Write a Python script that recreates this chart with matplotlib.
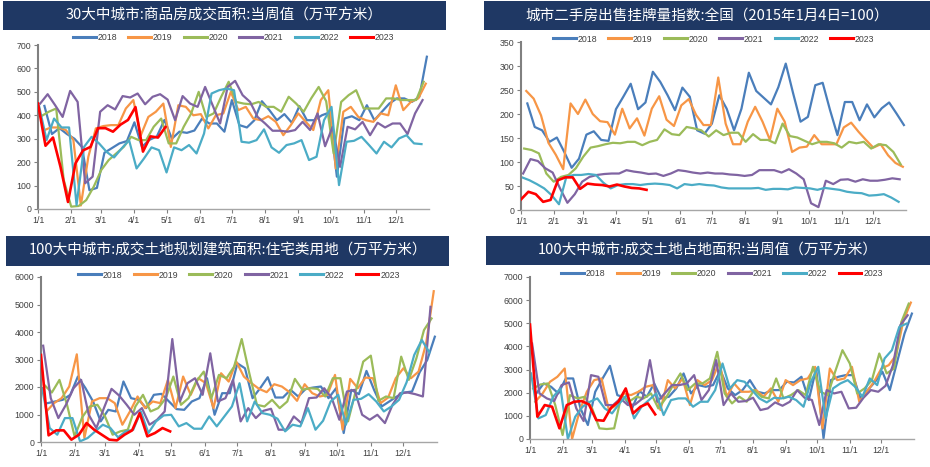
import numpy as np
import matplotlib
matplotlib.use("Agg")
import matplotlib.pyplot as plt
from matplotlib.patches import Rectangle

plt.rcParams['font.family'] = ['Liberation Sans', 'Noto Sans CJK SC', 'DejaVu Sans']

years = ["2018", "2019", "2020", "2021", "2022", "2023"]
colors = ["#4A7EBB", "#F79646", "#9BBB59", "#8064A2", "#4BACC6", "#FF0000"]
start_days = [6, 5, 3, 2, 1, 0]

month_days = [0, 31, 59, 90, 120, 151, 181, 212, 243, 273, 304, 334]
month_labels = ["1/1", "2/1", "3/1", "4/1", "5/1", "6/1", "7/1", "8/1", "9/1", "10/1", "11/1", "12/1"]

titles = [
    "30大中城市:商品房成交面积:当周值（万平方米）",
    "城市二手房出售挂牌量指数:全国（2015年1月4日=100）",
    "100大中城市:成交土地规划建筑面积:住宅类用地（万平方米）",
    "100大中城市:成交土地占地面积:当周值（万平方米）",
]

# Panel 1: 30 cities weekly sales area
p1_2018 = [440, 320, 345, 320, 300, 265, 80, 90, 240, 260, 280, 290, 370, 265, 295, 310, 380, 300, 330, 325, 335, 385, 365, 365, 330, 465, 358, 348, 379, 460, 422, 379, 405, 368, 439, 379, 379, 400, 412, 138, 386, 396, 379, 443, 379, 415, 450, 472, 472, 457, 479, 650]
p1_2019 = [335, 348, 348, 337, 295, 15, 223, 344, 354, 358, 358, 429, 465, 315, 393, 415, 450, 265, 443, 436, 400, 405, 344, 400, 408, 500, 422, 436, 386, 379, 396, 372, 315, 358, 408, 372, 337, 465, 507, 173, 415, 436, 393, 379, 372, 408, 400, 528, 422, 457, 472, 535]
p1_2020 = [396, 415, 429, 124, 10, 13, 38, 95, 166, 209, 237, 265, 308, 294, 294, 351, 386, 280, 280, 351, 408, 500, 393, 408, 479, 543, 457, 450, 447, 457, 436, 436, 415, 479, 450, 415, 472, 521, 460, 237, 457, 486, 507, 429, 429, 429, 472, 472, 465, 465, 465, 543]
p1_2021 = [450, 490, 443, 393, 504, 457, 110, 138, 415, 443, 425, 482, 476, 493, 447, 479, 490, 467, 379, 482, 450, 436, 521, 443, 365, 521, 547, 486, 457, 393, 365, 334, 334, 330, 337, 372, 337, 408, 268, 351, 180, 351, 340, 372, 315, 368, 348, 365, 365, 320, 408, 465]
p1_2022 = [440, 294, 386, 348, 348, 17, 265, 308, 280, 244, 220, 258, 294, 173, 216, 263, 251, 156, 263, 251, 273, 237, 322, 493, 507, 514, 507, 287, 283, 294, 340, 263, 240, 273, 280, 294, 209, 223, 379, 436, 102, 287, 291, 308, 273, 237, 287, 263, 301, 315, 280, 277]
p1_2023 = [450, 270, 305, 180, 30, 195, 250, 265, 345, 345, 330, 360, 380, 435, 245, 310, 305, 350]

# Panel 2: second-hand listing index
p2_2018 = [222, 173, 166, 142, 151, 121, 88, 107, 157, 164, 146, 144, 210, 236, 263, 210, 224, 288, 267, 239, 208, 255, 236, 166, 159, 180, 239, 211, 166, 211, 286, 248, 234, 220, 256, 305, 243, 184, 194, 260, 265, 208, 156, 225, 225, 187, 220, 193, 212, 224, 201, 177]
p2_2019 = [248, 232, 197, 140, 115, 85, 222, 200, 230, 200, 185, 183, 157, 211, 170, 191, 155, 211, 237, 188, 175, 218, 231, 198, 177, 177, 276, 180, 137, 137, 184, 215, 184, 146, 211, 184, 121, 130, 132, 156, 137, 137, 137, 172, 182, 163, 146, 130, 137, 114, 98, 90]
p2_2020 = [128, 125, 118, 76, 59, 69, 73, 87, 111, 130, 133, 137, 140, 139, 142, 142, 135, 142, 146, 168, 158, 156, 173, 170, 166, 153, 166, 156, 161, 161, 142, 158, 146, 146, 139, 180, 154, 151, 144, 137, 142, 142, 139, 130, 142, 139, 142, 128, 137, 135, 121, 95]
p2_2021 = [76, 106, 102, 87, 78, 45, 15, 33, 59, 69, 73, 75, 76, 76, 83, 80, 78, 75, 76, 71, 76, 83, 81, 78, 76, 78, 76, 76, 74, 73, 71, 73, 83, 83, 83, 78, 85, 76, 64, 14, 6, 61, 54, 63, 64, 59, 64, 61, 61, 63, 66, 64]
p2_2022 = [68, 62, 54, 45, 31, 12, 69, 73, 73, 75, 73, 57, 45, 52, 54, 54, 52, 54, 55, 54, 52, 45, 54, 52, 54, 52, 51, 47, 45, 45, 45, 45, 46, 42, 44, 44, 43, 47, 46, 45, 42, 46, 44, 42, 38, 36, 35, 30, 31, 33, 26, 17]
p2_2023 = [22, 38, 33, 17, 21, 62, 68, 68, 44, 55, 53, 52, 49, 53, 49, 46, 45, 42]

# Panel 3: 100 cities land planned floor area (residential)
p3_2018 = [1413, 1473, 1534, 1715, 2380, 1957, 1473, 750, 1170, 1110, 2200, 1594, 1534, 1232, 1715, 1750, 1473, 1196, 1170, 1473, 1594, 2320, 990, 1775, 1775, 2862, 2681, 1594, 1957, 2355, 1618, 1618, 1896, 1655, 1932, 1981, 2017, 1594, 1957, 326, 1896, 1739, 2585, 1896, 1292, 1473, 1655, 1800, 1836, 2536, 2983, 3829]
p3_2019 = [1111, 1413, 1594, 2017, 3188, 145, 1473, 1594, 1594, 1413, 628, 1111, 1655, 1232, 1473, 1413, 2258, 1232, 2380, 1715, 2320, 2138, 1232, 2500, 2198, 2923, 2380, 2138, 1932, 1812, 2101, 2017, 1812, 1498, 2101, 1775, 1655, 1715, 2440, 447, 2295, 1957, 2343, 2319, 1413, 1618, 2319, 2681, 2319, 2560, 3587, 5483]
p3_2020 = [2077, 1800, 2258, 1353, 205, 900, 1292, 1353, 930, 266, 386, 447, 1292, 1715, 1111, 1232, 1594, 2380, 1353, 1594, 2198, 2560, 1594, 2440, 2319, 2741, 3744, 2500, 1353, 1292, 1534, 1232, 1473, 2295, 1896, 1957, 1932, 1655, 2319, 2319, 749, 1836, 2923, 3140, 1498, 1655, 1594, 3104, 2258, 3043, 4070, 4493]
p3_2021 = [3502, 1594, 870, 1353, 1957, 2258, 990, 507, 1232, 1932, 1690, 1353, 990, 1232, 628, 809, 1111, 3744, 1473, 2138, 2319, 1715, 3225, 1473, 1594, 2258, 749, 1232, 870, 1135, 1208, 447, 447, 930, 688, 1594, 1618, 1957, 1594, 809, 1836, 1896, 990, 809, 990, 688, 1353, 1775, 1800, 1739, 1655, 4915]
p3_2022 = [1957, 507, 266, 870, 870, 24, 145, 386, 628, 507, 169, 386, 447, 1111, 326, 749, 966, 990, 568, 688, 483, 483, 930, 568, 930, 1292, 2138, 749, 1473, 1051, 990, 845, 386, 628, 568, 1232, 447, 773, 1473, 1715, 628, 1534, 1570, 1739, 1473, 1111, 1292, 1534, 2174, 3164, 3708, 3261]
p3_2023 = [3164, 242, 423, 423, 85, 266, 688, 447, 266, 85, 60, 266, 423, 1051, 205, 326, 507, 386]

# Panel 4: 100 cities land area weekly
p4_2018 = [1969, 2400, 2257, 1969, 2616, 2616, 1322, 604, 2041, 2616, 3162, 1897, 1782, 1322, 2070, 1825, 2400, 1754, 1825, 2185, 2832, 1969, 2329, 2257, 2329, 2976, 2185, 1897, 2113, 2544, 2041, 1969, 2113, 2113, 2472, 2444, 2688, 1682, 3047, 29, 2544, 2688, 2760, 2760, 1754, 2113, 2472, 2904, 2113, 3335, 4557, 5419]
p4_2019 = [1610, 1969, 2472, 2688, 3047, 0, 1179, 2041, 2544, 2616, 1250, 1466, 1969, 1897, 2041, 2257, 2329, 1250, 2544, 2185, 2616, 1466, 2544, 2329, 2544, 3335, 1825, 2400, 2041, 2041, 2113, 1825, 2185, 1610, 2544, 2329, 2544, 2616, 3119, 460, 3047, 2544, 2616, 3119, 1610, 2041, 2472, 3047, 3191, 3622, 5132, 5893]
p4_2020 = [2185, 2357, 2400, 1466, 172, 1897, 1754, 1825, 1322, 460, 431, 460, 1897, 1610, 1825, 1754, 1969, 1322, 1754, 2329, 2832, 2113, 2400, 2400, 2616, 3766, 1969, 1538, 1825, 1610, 2113, 1825, 1754, 2616, 1754, 1897, 2113, 1897, 3119, 2041, 1897, 2904, 3838, 3263, 1969, 2185, 2544, 3694, 2832, 3047, 5060, 5850]
p4_2021 = [4125, 1969, 1754, 1639, 2329, 2444, 1322, 776, 2760, 2688, 1466, 1466, 1754, 1466, 1495, 1754, 3407, 1610, 1969, 2329, 2329, 2400, 2760, 1682, 2113, 3407, 1466, 1969, 1610, 1639, 1782, 1250, 1322, 1581, 1437, 1610, 2113, 1782, 1682, 604, 2113, 1969, 2041, 1322, 1351, 1782, 2113, 2041, 2300, 3191, 4916, 5347]
p4_2022 = [2832, 891, 1035, 1825, 2185, 0, 963, 1394, 1610, 1754, 1322, 1107, 1538, 1897, 891, 1394, 1682, 1969, 1035, 1682, 1754, 1754, 1394, 1610, 1610, 2113, 3263, 2185, 2544, 2472, 2113, 1754, 1581, 1782, 1754, 1825, 1682, 1394, 2472, 3119, 891, 2185, 2400, 2544, 2257, 1825, 2616, 2329, 3479, 3838, 4844, 4988]
p4_2023 = [4945, 963, 1466, 1394, 460, 1466, 1610, 1639, 1495, 819, 790, 1351, 1610, 2185, 1107, 1394, 1538, 1064]

panels = [
    [p1_2018, p1_2019, p1_2020, p1_2021, p1_2022, p1_2023],
    [p2_2018, p2_2019, p2_2020, p2_2021, p2_2022, p2_2023],
    [p3_2018, p3_2019, p3_2020, p3_2021, p3_2022, p3_2023],
    [p4_2018, p4_2019, p4_2020, p4_2021, p4_2022, p4_2023],
]
ylims = [(0, 700, 100), (0, 350, 50), (0, 6000, 1000), (0, 7000, 1000)]

W, H = 930, 467
fig = plt.figure(figsize=(W / 100, H / 100), dpi=100)

def frect(l, r, t, b):
    return [l / W, 1 - b / H, (r - l) / W, (b - t) / H]

axes_px = [(38, 429, 45, 209), (521, 906, 42, 210), (41, 437, 277, 442), (530, 914, 277, 439)]
title_px = [(3, 446, 1, 30), (484, 930, 1, 30), (6, 449, 236, 266), (486, 930, 236, 265)]
legend_y = [38, 39, 275, 274]

for i in range(4):
    tl, tr, tt, tb = title_px[i]
    fig.patches.append(Rectangle((tl / W, 1 - tb / H), (tr - tl) / W, (tb - tt) / H,
                                 transform=fig.transFigure, facecolor="#1F3864",
                                 edgecolor="none", zorder=0))
    fig.text((tl + tr) / 2 / W, 1 - (tt + tb) / 2 / H, titles[i], color="white",
             fontsize=10.5, ha="center", va="center",
             family=['Noto Sans CJK SC', 'DejaVu Sans'])

    l, r, t, b = axes_px[i]
    ax = fig.add_axes(frect(l, r, t, b))
    for k, vals in enumerate(panels[i]):
        x = start_days[k] + 7 * np.arange(len(vals))
        ax.plot(x, vals, color=colors[k], lw=1.6 if k < 5 else 1.9, label=years[k],
                zorder=3 if k == 5 else 2)
    y0, y1, ys = ylims[i]
    ax.set_ylim(y0, y1)
    ax.set_yticks(np.arange(y0, y1 + ys, ys))
    ax.set_xlim(0, 365)
    ax.set_xticks(month_days)
    ax.set_xticklabels(month_labels)
    ax.tick_params(axis="both", labelsize=6.3, length=3, width=0.8,
                   direction="out", pad=2, colors="#808080", labelcolor="#404040")
    for s in ["top", "right"]:
        ax.spines[s].set_visible(False)
    ax.spines["left"].set_color("#808080")
    ax.spines["left"].set_linewidth(1.5)
    ax.spines["bottom"].set_color("#A6A6A6")
    ax.spines["bottom"].set_linewidth(1.0)
    ax.set_facecolor("none")
    cx = (l + r) / 2 / W
    leg = ax.legend(loc="center", bbox_to_anchor=(cx, 1 - legend_y[i] / H),
                    bbox_transform=fig.transFigure, ncol=6, frameon=False,
                    fontsize=6.3, handlelength=2.6, handletextpad=0.2,
                    columnspacing=1.3, borderpad=0)
    for line in leg.get_lines():
        line.set_linewidth(2.2)
    for txt in leg.get_texts():
        txt.set_color("#404040")

fig.savefig("out.png", dpi=100)
